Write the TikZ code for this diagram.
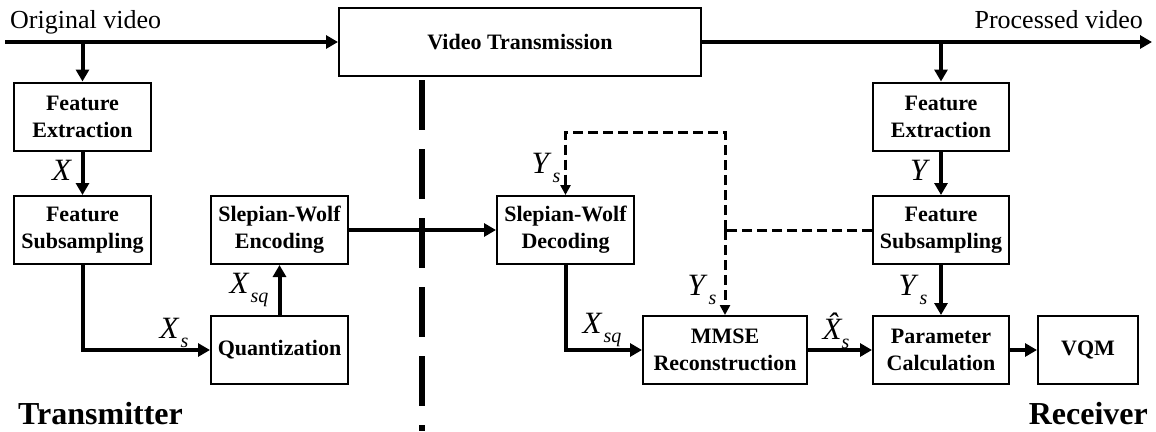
\documentclass[tikz,border=0pt]{standalone}
\usepackage{fontspec}
\setmainfont{Liberation Serif}
\usetikzlibrary{arrows.meta}
\newcommand{\sublab}[2]{\textit{#1}\kern1pt\raisebox{-9pt}{\fontsize{20}{20}\selectfont\textit{#2}}}
\newcommand{\hatX}{\textit{X\char"0302}\kern-1pt}
\tikzset{
  blk/.style={draw, line width=2pt, minimum width=137pt, minimum height=68pt, inner sep=0pt, align=center, font=\fontsize{22}{27}\selectfont\bfseries},
  flow/.style={line width=4pt, -{Triangle[length=12pt,width=13pt]}},
  dsh/.style={line width=3pt, dash pattern=on 10pt off 5pt},
  dsharr/.style={dsh, -{Triangle[length=10pt,width=10pt]}},
  lab/.style={inner sep=0pt, font=\fontsize{31}{31}\selectfont},
  big/.style={inner sep=0pt, font=\fontsize{32}{32}\selectfont\bfseries},
  io/.style={inner sep=0pt, font=\fontsize{26}{26}\selectfont}
}
\begin{document}
\begin{tikzpicture}[x=1pt,y=-1pt]
\useasboundingbox (0,0) rectangle (1156,431);
% boxes
\node[blk] (vt) at (520,42) [minimum width=362pt] {Video Transmission};
\node[blk] (fe1) at (82.5,116.5) {Feature\\Extraction};
\node[blk] (fs1) at (82.5,230) {Feature\\Subsampling};
\node[blk] (swe) at (279.5,230) {Slepian-Wolf\\Encoding};
\node[blk] (q) at (279.5,350) {Quantization};
\node[blk] (swd) at (565.5,230) {Slepian-Wolf\\Decoding};
\node[blk] (mmse) at (725,350) [minimum width=164pt] {MMSE\\Reconstruction};
\node[blk] (fe2) at (941,116.5) [minimum width=136pt] {Feature\\Extraction};
\node[blk] (fs2) at (941,230) [minimum width=136pt] {Feature\\Subsampling};
\node[blk] (pc) at (941,350) [minimum width=136pt] {Parameter\\Calculation};
\node[blk] (vqm) at (1088,350) [minimum width=100pt] {VQM};
% texts
\node[io, anchor=base west] (orig) at (10,28) {Original video};
\node[io, anchor=base east] (proc) at (1143,28) {Processed video};
\node[big, anchor=base west] (tx) at (18,424) {Transmitter};
\node[big, anchor=base east] (rx) at (1148,424) {Receiver};
% coordinates
\coordinate (in) at (5,42);
\coordinate (out) at (1152,42);
\coordinate (b1) at (fe1.north |- vt.west);
\coordinate (b2) at (fe2.north |- vt.east);
\coordinate (j) at (mmse.north |- fs2.west);
\coordinate (tp) at (725,132);
\coordinate (d1) at (422,80);
\coordinate (d2) at (422,431);
% connectors
\draw[flow] (in) -- (vt.west);
\draw[flow] (vt.east) -- (out);
\draw[flow] (b1) -- (fe1.north);
\draw[flow] (b2) -- (fe2.north);
\draw[flow] (fe1.south) -- (fs1.north);
\draw[flow] (fs1.south) |- (q.west);
\draw[flow] (q.north) -- (swe.south);
\draw[flow] (swe.east) -- (swd.west);
\draw[flow] (swd.south) |- (mmse.west);
\draw[flow] (mmse.east) -- (pc.west);
\draw[flow] (pc.east) -- (vqm.west);
\draw[flow] (fe2.south) -- (fs2.north);
\draw[flow] (fs2.south) -- (pc.north);
\draw[dsh] (fs2.west) -- (j);
\draw[dsharr] (j) -- (tp) -| (swd.north);
\draw[dsharr] (j) -- (mmse.north);
\draw[line width=6.5pt, dash pattern=on 50pt off 19pt] (d1) -- (d2);
% labels
\node[lab] (lx) at (62,170) {\textit{X}};
\node[lab] (lxs) at (174,333) {\sublab{X}{s}};
\node[lab] (lxsq) at (249,290) {\sublab{X}{sq}};
\node[lab] (lys1) at (546,168) {\sublab{Y}{s}};
\node[lab] (lys2) at (702,290) {\sublab{Y}{s}};
\node[lab] (lxsq2) at (602,330) {\sublab{X}{sq}};
\node[lab] (ly) at (920,170) {\textit{Y}};
\node[lab] (lys3) at (913,290) {\sublab{Y}{s}};
\node[lab] (lxh) at (836,331) {\sublab{\hatX}{s}};
\end{tikzpicture}
\end{document}
